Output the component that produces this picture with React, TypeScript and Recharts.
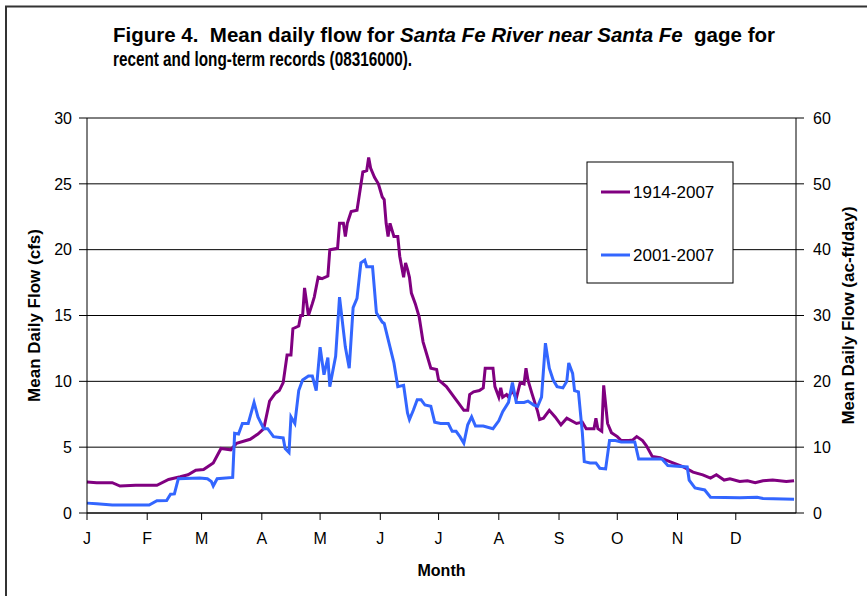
import React from 'react';
import { LineChart, Line, XAxis, YAxis, CartesianGrid } from 'recharts';

const monthLabels = ['J', 'F', 'M', 'A', 'M', 'J', 'J', 'A', 'S', 'O', 'N', 'D'];
const monthStartDays = [0, 31, 59, 90, 120, 151, 181, 212, 243, 273, 304, 334];
const cfsTicks = [0, 5, 10, 15, 20, 25, 30];
const acftTicks = [0, 10, 20, 30, 40, 50, 60];
const seriesNames = ['1914-2007', '2001-2007'];

const longTermDays = [0, 5, 13, 17, 25, 36, 42, 48, 52, 56, 60, 65, 69, 74, 77, 84, 88, 91, 94, 97, 99, 101, 103, 105, 106, 109, 110, 111, 112, 114, 116, 117, 119, 121, 124, 125, 129, 130, 132, 133, 134, 136, 139, 142, 144, 145, 146, 148, 150, 152, 153, 154, 155, 156, 158, 160, 161, 163, 164, 165, 166, 167, 169, 171, 173, 175, 177, 180, 181, 185, 189, 191, 194, 196, 197, 199, 202, 204, 205, 209, 210, 212, 213, 214, 216, 217, 219, 221, 223, 225, 226, 227, 229, 232, 233, 235, 238, 241, 244, 247, 252, 255, 257, 261, 262, 263, 265, 266, 268, 270, 273, 275, 279, 281, 283, 286, 288, 291, 295, 300, 307, 312, 317, 321, 324, 328, 331, 336, 340, 344, 348, 353, 360, 364];
const longTermFlow = [2.35, 2.3, 2.3, 2.05, 2.1, 2.1, 2.55, 2.75, 2.9, 3.25, 3.3, 3.8, 4.9, 4.8, 5.3, 5.6, 6.0, 6.4, 8.5, 9.1, 9.3, 9.9, 12.0, 12.0, 14.0, 14.2, 15.0, 15.0, 17.1, 15.0, 15.9, 16.4, 17.9, 17.8, 18.0, 20.0, 20.1, 22.0, 22.0, 21.0, 22.0, 22.9, 23.0, 25.9, 26.0, 27.0, 26.2, 25.5, 25.0, 24.0, 23.8, 22.0, 21.0, 22.0, 21.0, 21.0, 19.5, 17.9, 19.0, 18.5, 17.9, 16.7, 15.9, 14.9, 13.0, 12.0, 11.0, 10.9, 10.1, 9.6, 8.8, 8.4, 7.8, 7.8, 9.0, 9.2, 9.3, 9.5, 11.0, 11.0, 9.6, 8.8, 9.5, 8.8, 9.0, 8.8, 9.3, 8.7, 9.9, 9.8, 11.0, 10.1, 9.1, 7.7, 7.1, 7.2, 7.8, 7.3, 6.7, 7.2, 6.8, 6.9, 6.4, 6.4, 7.2, 6.4, 6.2, 9.7, 6.8, 6.1, 5.8, 5.5, 5.5, 5.55, 5.8, 5.5, 5.1, 4.3, 4.2, 3.9, 3.5, 3.1, 2.9, 2.65, 2.9, 2.5, 2.6, 2.4, 2.45, 2.3, 2.45, 2.5, 2.4, 2.45];

const recentDays = [0, 5, 13, 20, 32, 36, 41, 43, 45, 47, 58, 62, 64, 65, 67, 75, 76, 78, 80, 83, 86, 88, 91, 93, 96, 101, 102, 104, 105, 107, 109, 111, 114, 116, 118, 120, 122, 124, 125, 128, 130, 133, 135, 137, 139, 141, 143, 144, 147, 149, 152, 153, 156, 158, 160, 163, 165, 166, 168, 170, 172, 174, 177, 179, 182, 186, 188, 190, 192, 194, 196, 198, 200, 204, 209, 212, 214, 217, 219, 221, 225, 227, 230, 232, 234, 236, 238, 240, 242, 245, 247, 248, 250, 251, 253, 255, 256, 259, 262, 264, 267, 269, 272, 275, 282, 284, 296, 299, 309, 310, 313, 318, 321, 336, 345, 348, 364];
const recentFlow = [0.75, 0.7, 0.6, 0.6, 0.6, 0.93, 0.95, 1.43, 1.45, 2.6, 2.65, 2.6, 2.4, 2.05, 2.6, 2.7, 6.05, 6.0, 6.8, 6.8, 8.4, 7.3, 6.4, 6.4, 5.8, 5.7, 4.9, 4.6, 7.3, 6.8, 9.3, 10.1, 10.4, 10.4, 9.3, 12.6, 10.5, 11.8, 9.6, 11.9, 16.4, 12.6, 11.0, 15.6, 16.3, 19.0, 19.2, 18.7, 18.7, 15.2, 14.5, 14.4, 12.6, 11.4, 9.6, 9.7, 7.6, 7.1, 7.8, 8.6, 8.6, 8.2, 8.1, 6.9, 6.8, 6.8, 6.2, 6.2, 5.8, 5.3, 6.7, 7.3, 6.6, 6.6, 6.4, 7.0, 7.7, 8.4, 9.9, 8.4, 8.4, 8.5, 8.2, 8.1, 8.8, 12.9, 11.0, 10.1, 9.6, 9.5, 10.0, 11.4, 10.6, 9.3, 9.2, 6.1, 3.9, 3.8, 3.8, 3.4, 3.35, 5.5, 5.5, 5.4, 5.4, 4.1, 4.1, 3.6, 3.5, 2.5, 1.9, 1.75, 1.2, 1.15, 1.2, 1.1, 1.05];

const longTermData = longTermDays.map((d, i) => ({ day: d, flow: longTermFlow[i] }));
const recentData = recentDays.map((d, i) => ({ day: d, flow: recentFlow[i] }));

const FONT = '"Liberation Sans", Arial, sans-serif';
const PURPLE = '#800080';
const BLUE = '#3366FF';

export default function App() {
  return (
    <div style={{ position: 'absolute', left: 0, top: 0, width: 867, height: 596, overflow: 'hidden', background: '#fff', fontFamily: FONT }}>
      <div style={{ position: 'absolute', left: 0, top: 0 }}>
        <LineChart width={867} height={596} margin={{ top: 118, right: 0, bottom: 0, left: 0 }}>
          <CartesianGrid vertical={false} horizontal={true} stroke="#000" strokeWidth={1} />
          <XAxis
            type="number"
            dataKey="day"
            domain={[0, 365]}
            ticks={monthStartDays}
            tickFormatter={(v: number) => monthLabels[monthStartDays.indexOf(v)] ?? ''}
            height={83}
            stroke="#000"
            tickSize={7}
            tick={{ fill: '#000', fontSize: 16, fontFamily: FONT }}
            tickMargin={13}
            label={{ value: 'Month', position: 'center', dy: 16, style: { fill: '#000', fontSize: 16, fontWeight: 'bold', fontFamily: FONT } }}
          />
          <YAxis
            yAxisId={0}
            domain={[0, 30]}
            ticks={cfsTicks}
            width={87}
            stroke="#000"
            tickSize={8}
            tickMargin={7}
            tick={{ fill: '#000', fontSize: 16, fontFamily: FONT }}
            label={{ value: 'Mean Daily Flow (cfs)', angle: -90, position: 'center', dx: -10, style: { fill: '#000', fontSize: 17, fontWeight: 'bold', fontFamily: FONT, textAnchor: 'middle' } }}
          />
          <YAxis
            yAxisId="right"
            orientation="right"
            type="number"
            domain={[0, 60]}
            allowDataOverflow={true}
            ticks={acftTicks}
            width={71}
            stroke="#000"
            tickSize={8}
            tickMargin={9}
            tick={{ fill: '#000', fontSize: 16, fontFamily: FONT }}
            label={{ value: 'Mean Daily Flow (ac-ft/day)', angle: -90, position: 'center', dx: 16, style: { fill: '#000', fontSize: 17, fontWeight: 'bold', fontFamily: FONT, textAnchor: 'middle' } }}
          />
          <Line data={longTermData} dataKey="flow" name={seriesNames[0]} type="linear" stroke={PURPLE} strokeWidth={3} dot={false} isAnimationActive={false} />
          <Line data={recentData} dataKey="flow" name={seriesNames[1]} type="linear" stroke={BLUE} strokeWidth={3} dot={false} isAnimationActive={false} />
        </LineChart>
      </div>
      <svg width={867} height={596} style={{ position: 'absolute', left: 0, top: 0, pointerEvents: 'none' }}>
        <path d="M6,596 L6,6.5 L867,6.5" fill="none" stroke="#333" strokeWidth={2} />
        <text x={113} y={42} fontSize={20} fontWeight="bold" fontFamily={FONT} fill="#000" textLength={662} lengthAdjust="spacingAndGlyphs" style={{ whiteSpace: 'pre' }}>
          <tspan>{'Figure 4.  Mean daily flow for '}</tspan>
          <tspan fontStyle="italic">{'Santa Fe River near Santa Fe'}</tspan>
          <tspan>{'  gage for'}</tspan>
        </text>
        <text x={113} y={66} fontSize={20} fontWeight="bold" fontFamily={FONT} fill="#000" textLength={299} lengthAdjust="spacingAndGlyphs">
          recent and long-term records (08316000).
        </text>
        <rect x={587} y={162} width={146} height={121} fill="#fff" stroke="#000" strokeWidth={1} />
        <line x1={601} y1={192} x2={630} y2={192} stroke={PURPLE} strokeWidth={3} />
        <text x={633} y={198} fontSize={17} fontFamily={FONT} fill="#000">{seriesNames[0]}</text>
        <line x1={601} y1={255} x2={630} y2={255} stroke={BLUE} strokeWidth={3} />
        <text x={633} y={261} fontSize={17} fontFamily={FONT} fill="#000">{seriesNames[1]}</text>
      </svg>
    </div>
  );
}
